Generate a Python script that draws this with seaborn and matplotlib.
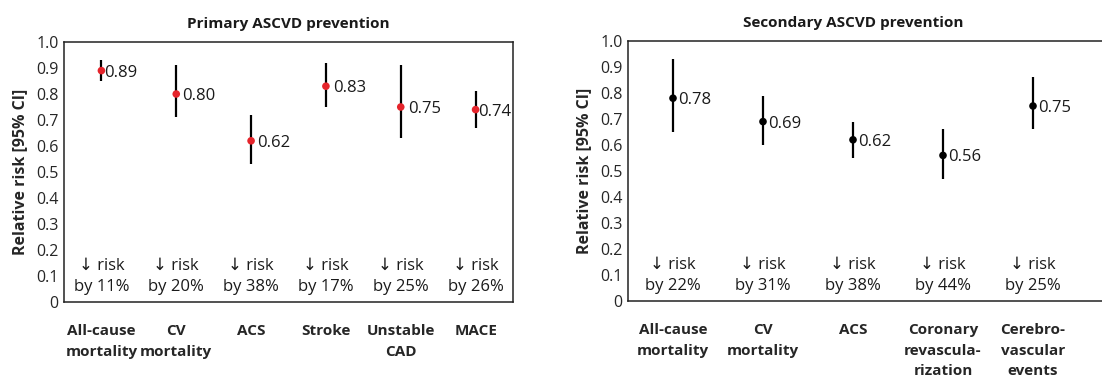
import numpy as np
import matplotlib
matplotlib.use("Agg")
import matplotlib.pyplot as plt
import matplotlib.transforms as mtransforms
import seaborn as sns
import pandas as pd

# ---------------- data ----------------
primary_categories = ["All-cause\nmortality", "CV\nmortality", "ACS", "Stroke", "Unstable\nCAD", "MACE"]
primary_rr = [0.89, 0.80, 0.62, 0.83, 0.75, 0.74]
primary_lo = [0.85, 0.71, 0.53, 0.75, 0.63, 0.67]
primary_hi = [0.93, 0.91, 0.72, 0.92, 0.91, 0.81]
primary_labels = ["0.89", "0.80", "0.62", "0.83", "0.75", "0.74"]
primary_reduction = ["11%", "20%", "38%", "17%", "25%", "26%"]

secondary_categories = ["All-cause\nmortality", "CV\nmortality", "ACS", "Coronary\nrevascula-\nrization", "Cerebro-\nvascular\nevents"]
secondary_rr = [0.78, 0.69, 0.62, 0.56, 0.75]
secondary_lo = [0.65, 0.60, 0.55, 0.47, 0.66]
secondary_hi = [0.93, 0.79, 0.69, 0.66, 0.86]
secondary_labels = ["0.78", "0.69", "0.62", "0.56", "0.75"]
secondary_reduction = ["22%", "31%", "38%", "44%", "25%"]

y_ticks = [0, 0.1, 0.2, 0.3, 0.4, 0.5, 0.6, 0.7, 0.8, 0.9, 1.0]
y_tick_labels = ["0", "0.1", "0.2", "0.3", "0.4", "0.5", "0.6", "0.7", "0.8", "0.9", "1.0"]

titles = ["Primary ASCVD prevention", "Secondary ASCVD prevention"]
y_label = "Relative risk [95% CI]"

# ---------------- style ----------------
sns.set_style("white")
plt.rcParams["font.family"] = ["Open Sans", "DejaVu Sans"]
plt.rcParams["text.color"] = "#1a1a1a"

W, H = 1102, 381
fig = plt.figure(figsize=(W / 100, H / 100), dpi=100)

ax1 = fig.add_axes([64 / W, (H - 302) / H, 449 / W, 260 / H])
ax2 = fig.add_axes([628 / W, (H - 301) / H, 495 / W, 260 / H])


def draw(ax, cats, rr, lo, hi, labels, red, color, xlim, title, title_x, value_offset):
    x = np.arange(len(cats))
    df = pd.DataFrame({"x": x, "rr": rr, "lo": lo, "hi": hi})
    ax.vlines(df["x"], df["lo"], df["hi"], color="black", linewidth=1.6, zorder=2)
    sns.scatterplot(data=df, x="x", y="rr", ax=ax, color=color, s=30,
                    edgecolor="none", zorder=3, legend=False)
    for xi, yi, lab, off in zip(x, rr, labels, value_offset):
        ax.annotate(lab, (xi, yi), xytext=(off, -1.5), textcoords="offset points",
                    ha="left", va="center", fontsize=12)
    for xi, r in zip(x, red):
        ax.text(xi, 0.138, "\u2193 risk", ha="center", va="center", fontsize=12,
                family=["Open Sans", "DejaVu Sans"])
        ax.text(xi, 0.058, "by " + r, ha="center", va="center", fontsize=12)
    ax.set_xlim(*xlim)
    ax.set_ylim(0, 1.0)
    ax.set_yticks(y_ticks)
    ax.set_yticklabels(y_tick_labels, fontsize=11.5)
    ax.set_xticks(x)
    ax.set_xticklabels(cats, fontsize=11, fontweight="bold", linespacing=1.6)
    ax.tick_params(axis="both", length=0)
    ax.tick_params(axis="x", pad=16)
    ax.tick_params(axis="y", pad=4)
    ax.set_xlabel("")
    ax.set_ylabel(y_label, fontsize=11.5, fontweight="bold", labelpad=6)
    for s in ax.spines.values():
        s.set_visible(True)
        s.set_color("#222222")
        s.set_linewidth(1.1)
    trans = mtransforms.blended_transform_factory(ax.transData, ax.transAxes)
    ax.text(title_x, 1.07, title, transform=trans, ha="center", va="center",
            fontsize=11, fontweight="bold")


draw(ax1, primary_categories, primary_rr, primary_lo, primary_hi, primary_labels,
     primary_reduction, "#e5242b", (-0.5, 5.5), titles[0], 2.5,
     [2, 4, 4, 5, 5, 1.5])
draw(ax2, secondary_categories, secondary_rr, secondary_lo, secondary_hi, secondary_labels,
     secondary_reduction, "black", (-0.5, 5.0), titles[1], 2.0,
     [4, 4, 4, 4, 4])

fig.savefig("out.png", dpi=100, facecolor="white")
